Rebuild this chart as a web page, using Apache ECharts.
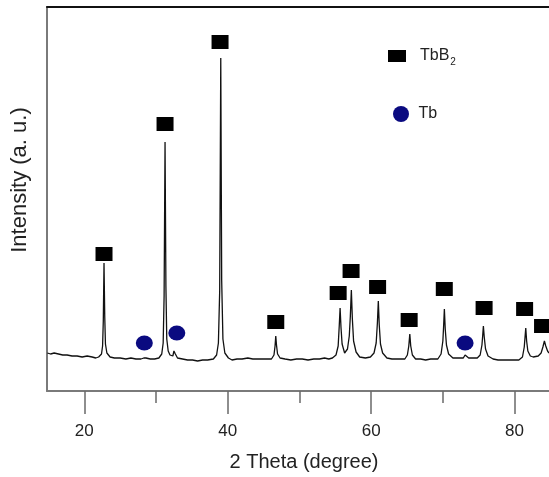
<!DOCTYPE html>
<html>
<head>
<meta charset="utf-8">
<script src="https://cdn.jsdelivr.net/npm/echarts@6/dist/echarts.min.js"></script>
<style>
  html, body { margin: 0; padding: 0; background: #fff; }
  #xrd { width: 549px; height: 477px; }
</style>
</head>
<body>
<div id="xrd"></div>
<script>
// 2θ (degree) and intensity (a. u.)
const twoTheta = [
  14.85, 15.3, 15.8, 16.4, 17.0, 17.6, 18.3, 19.0, 19.7, 20.4, 21.1, 21.6,
  22.0, 22.4, 22.55, 22.65, 22.75, 22.85, 22.95, 23.15, 23.6,
  24.2, 25.0, 25.8, 26.5, 27.2, 27.9, 28.3, 28.45, 28.6, 29.2, 29.8,
  30.4, 30.8, 31.0, 31.13, 31.26, 31.38, 31.5, 31.7, 31.95,
  32.35, 32.5, 32.58, 32.7, 33.0,
  33.7, 34.4, 35.1, 35.8, 36.5, 37.2,
  38.0, 38.45, 38.7, 38.88, 39.03, 39.16, 39.33, 39.6, 40.1, 40.6,
  41.3, 42.0, 42.8, 43.5, 44.2, 45.0, 45.6,
  46.1, 46.45, 46.6, 46.7, 46.8, 46.95, 47.3,
  48.0, 48.8, 49.6, 50.4, 51.2, 52.0, 52.8, 53.5, 54.1,
  54.6, 55.1, 55.4, 55.55, 55.67, 55.8, 55.95, 56.3,
  56.7, 56.95, 57.1, 57.24, 57.38, 57.55, 57.9, 58.4, 59.2,
  59.9, 60.4, 60.7, 60.87, 61.0, 61.13, 61.3, 61.6, 62.2,
  62.9, 63.6, 64.2,
  64.7, 65.05, 65.25, 65.39, 65.52, 65.75, 66.2,
  66.9, 67.6, 68.3, 68.9,
  69.3, 69.75, 70.0, 70.1, 70.21, 70.33, 70.5, 70.8, 71.4,
  72.0, 72.3, 72.85, 73.0, 73.1, 73.25, 73.6, 74.2,
  74.8, 75.2, 75.45, 75.55, 75.65, 75.77, 75.95, 76.3, 77.0,
  77.7, 78.4, 79.1, 79.8,
  80.6, 81.1, 81.35, 81.46, 81.56, 81.68, 81.85, 82.2, 82.6,
  83.3, 83.7, 83.95, 84.16, 84.35, 84.6, 84.8
];
const intensity = [
  38, 37, 38, 37, 36, 36, 35, 35, 34, 35, 34, 33,
  34, 37, 45, 70, 128, 75, 47, 38, 34,
  33, 33, 32, 33, 32, 32, 33, 35, 33, 32, 32,
  33, 37, 48, 95, 249, 105, 52, 40, 36,
  35, 40, 42, 37, 33,
  32, 31, 31, 30, 31, 31,
  32, 36, 48, 100, 333, 110, 52, 38, 33, 31,
  32, 32, 33, 32, 32, 32, 32,
  32, 36, 45, 55, 46, 37, 33,
  32, 31, 32, 32, 31, 32, 32, 33, 32,
  33, 36, 45, 65, 83, 63, 47, 38,
  42, 55, 75, 101, 72, 50, 39, 34, 33,
  34, 38, 48, 68, 90, 66, 47, 38, 33,
  32, 32, 32,
  32, 36, 45, 57, 45, 36, 32,
  32, 31, 32, 32,
  32, 37, 50, 64, 82, 62, 46, 37, 33,
  33, 33, 33, 35, 36, 34, 33, 33,
  33, 36, 46, 55, 65, 54, 42, 35, 32,
  31, 31, 31, 31,
  31, 34, 44, 54, 63, 50, 40, 35, 34,
  35, 38, 44, 50, 45, 40, 38
];

// phase markers (square = TbB2, circle = Tb)
const tbb2X = [22.75, 31.26, 38.93, 46.7, 55.4, 57.2, 60.9, 65.3, 70.2, 75.75, 81.4, 83.9];
const tbb2Y = [137, 267, 349, 69, 98, 120, 104, 71, 102, 83, 82, 65];
const tbX = [28.37, 32.9, 73.1];
const tbY = [48, 58, 48];

const majorTicks = [20, 40, 60, 80];
const minorTicks = [30, 50, 70];

const chart = echarts.init(document.getElementById('xrd'));
const font = 'Liberation Sans, Arial, sans-serif';

chart.setOption({
  animation: false,
  grid: { left: 47, top: 7, right: 0, bottom: 86, outerBoundsMode: 'none' },
  xAxis: [
    {
      type: 'value', min: 14.8, max: 84.8, position: 'bottom',
      axisLine: { lineStyle: { color: '#7a7a7a', width: 2 } },
      axisTick: { show: true, customValues: majorTicks, length: 23, lineStyle: { color: '#6a6a6a', width: 1.5 } },
      axisLabel: { show: true, customValues: majorTicks, margin: 32, fontSize: 17, color: '#222', fontFamily: font },
      splitLine: { show: false }
    },
    {
      // minor ticks
      type: 'value', min: 14.8, max: 84.8, position: 'bottom', offset: 0,
      axisLine: { show: false },
      axisTick: { customValues: minorTicks, length: 12, lineStyle: { color: '#6a6a6a', width: 1.5 } },
      axisLabel: { show: false },
      splitLine: { show: false }
    },
    {
      // top frame
      type: 'value', min: 14.8, max: 84.8, position: 'top',
      axisLine: { lineStyle: { color: '#111', width: 2 } },
      axisTick: { show: false },
      axisLabel: { show: false },
      splitLine: { show: false }
    }
  ],
  yAxis: {
    type: 'value', min: 0, max: 384,
    axisLine: { show: true, lineStyle: { color: '#7a7a7a', width: 2 } },
    axisTick: { show: false },
    axisLabel: { show: false },
    splitLine: { show: false }
  },
  legend: [
    {
      data: [{ name: 'TbB2', icon: 'rect' }],
      left: 388, top: 48, padding: 0,
      itemWidth: 18, itemHeight: 12,
      formatter: () => '{a|TbB}{s|2}',
      textStyle: {
        color: '#222', fontFamily: font,
        rich: {
          a: { fontSize: 16, fontFamily: font, color: '#222', padding: [0, 0, 0, 9] },
          s: { fontSize: 10, fontFamily: font, color: '#222', padding: [12, 0, 0, 1] }
        }
      }
    },
    {
      data: [{ name: 'Tb', icon: 'circle' }],
      left: 393, top: 106, padding: 0,
      itemWidth: 17, itemHeight: 16,
      textStyle: { fontSize: 16, fontFamily: font, color: '#222', padding: [0, 0, 0, 4] }
    }
  ],
  graphic: [
    {
      type: 'text',
      x: 304, y: 462,
      style: { text: '2 Theta (degree)', font: '20px ' + font, fill: '#222', align: 'center', verticalAlign: 'middle' }
    },
    {
      type: 'text',
      x: 20, y: 180, rotation: Math.PI / 2,
      style: { text: 'Intensity (a. u.)', font: '22px ' + font, fill: '#222', align: 'center', verticalAlign: 'middle' }
    }
  ],
  series: [
    {
      type: 'line', name: 'pattern',
      data: twoTheta.map((t, i) => [t, intensity[i]]),
      showSymbol: false, symbol: 'none',
      lineStyle: { color: '#111', width: 1.3 },
      xAxisIndex: 0,
      z: 2
    },
    {
      type: 'scatter', name: 'TbB2',
      data: tbb2X.map((t, i) => [t, tbb2Y[i]]),
      symbol: 'rect', symbolSize: [17, 14],
      itemStyle: { color: '#000', opacity: 1 },
      xAxisIndex: 0,
      z: 3
    },
    {
      type: 'scatter', name: 'Tb',
      data: tbX.map((t, i) => [t, tbY[i]]),
      symbol: 'circle', symbolSize: [17, 15],
      itemStyle: { color: '#0a0a80', opacity: 1 },
      xAxisIndex: 0,
      z: 3
    }
  ]
});
</script>
</body>
</html>
